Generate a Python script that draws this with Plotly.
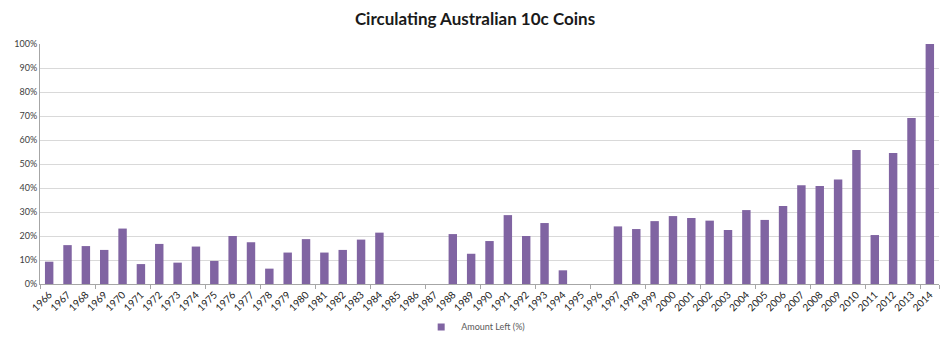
import plotly.graph_objects as go

years = [str(y) for y in range(1966, 2015)]
amount_left = [
    9.3, 16.2, 15.8, 14.2, 23.1, 8.3, 16.7, 8.9, 15.6, 9.6,
    20.0, 17.4, 6.4, 13.1, 18.7, 13.1, 14.2, 18.5, 21.4, None,
    None, None, 20.8, 12.6, 17.9, 28.7, 20.0, 25.4, 5.7, None,
    None, 24.0, 22.9, 26.2, 28.3, 27.5, 26.4, 22.5, 30.8, 26.7,
    32.5, 41.1, 40.8, 43.5, 55.8, 20.4, 54.6, 69.2, 100.0,
]
y_ticks = list(range(0, 101, 10))
y_tick_labels = [f"{v}%" for v in y_ticks]
bar_color = "#8064A2"
n = len(years)

fig = go.Figure()
fig.add_trace(go.Bar(
    x=years, y=amount_left, name="Amount Left (%)", showlegend=False,
    marker=dict(color=bar_color, line=dict(width=0)),
))
# legend entry with a small square swatch, like Excel
fig.add_trace(go.Scatter(
    x=[years[0]], y=[None], mode="markers", name="Amount Left (%)",
    marker=dict(symbol="square", size=7, color=bar_color),
))
# overlay axis for Excel-like boundary ticks every 3 categories
fig.add_trace(go.Scatter(x=[-0.5, n - 0.5], y=[None, None], xaxis="x2",
                         showlegend=False, hoverinfo="skip"))

fig.update_layout(
    width=950, height=346,
    margin=dict(l=40, r=11, t=44, b=62, autoexpand=False),
    paper_bgcolor="white", plot_bgcolor="white",
    title=dict(text="<b>Circulating Australian 10c Coins</b>", x=0.5, xanchor="center",
               y=0.945, yanchor="middle",
               font=dict(family="Lato, Open Sans, sans-serif", size=17, color="#1a1a1a")),
    bargap=0.54,
    showlegend=True,
    legend=dict(orientation="h", x=0.424, xanchor="left", yref="container",
                y=0.055, yanchor="middle",
                font=dict(family="Lato, sans-serif", size=9, color="#595959"),
                itemwidth=30, tracegroupgap=0),
    xaxis=dict(type="category", tickangle=-45, automargin=False, range=[-0.5, n - 0.5],
               tickfont=dict(family="Lato, sans-serif", size=10, color="#1a1a1a"),
               showline=True, linecolor="#a6a6a6", linewidth=1,
               ticks="", showgrid=False),
    xaxis2=dict(overlaying="x", anchor="y", side="bottom", range=[-0.5, n - 0.5],
                tickvals=[i - 0.5 for i in range(0, n + 1, 3)] + [n - 0.5],
                ticks="outside", ticklen=4, tickcolor="#a6a6a6", showticklabels=False,
                showgrid=False, zeroline=False, showline=False, automargin=False),
    yaxis=dict(range=[0, 100], tickvals=y_ticks, ticktext=y_tick_labels, automargin=False,
               tickfont=dict(family="Lato, sans-serif", size=9, color="#404040"),
               gridcolor="#d9d9d9", gridwidth=1, showline=True, linecolor="#a6a6a6",
               zeroline=False, ticks=""),
)

fig.write_html("out.html")
